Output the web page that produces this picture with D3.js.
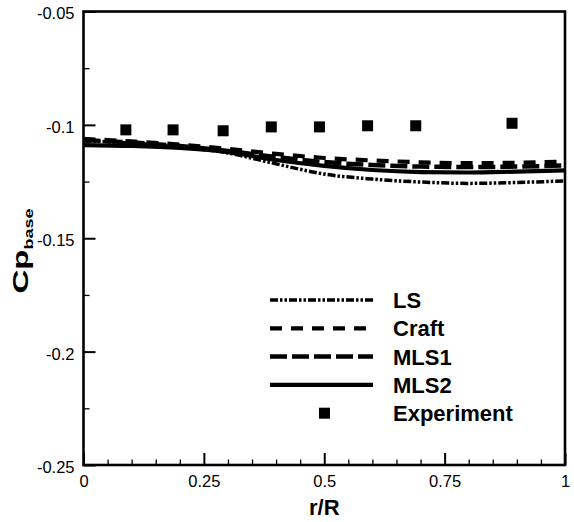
<!DOCTYPE html>
<html>
<head>
<meta charset="utf-8">
<script src="https://cdn.jsdelivr.net/npm/d3@7"></script>
<style>
  html, body { margin: 0; padding: 0; background: #fff; }
  svg { display: block; }
  text { font-family: "Liberation Sans", Arial, Helvetica, sans-serif; fill: #000; }
</style>
</head>
<body>
<svg id="chart" width="574" height="522"></svg>
<script>
// ---- data ----
const xGrid = [0, 0.1, 0.2, 0.3, 0.4, 0.5, 0.6, 0.7, 0.8, 0.9, 1.0];
const lsValues    = [-0.1071, -0.1080, -0.1098, -0.1124, -0.1172, -0.1217, -0.1239, -0.1252, -0.1258, -0.1254, -0.1247];
const craftValues = [-0.1062, -0.1073, -0.1087, -0.1106, -0.1128, -0.1146, -0.1157, -0.1165, -0.1169, -0.1167, -0.1162];
const mls1Values  = [-0.1067, -0.1078, -0.1093, -0.1115, -0.1142, -0.1164, -0.1177, -0.1184, -0.1186, -0.1184, -0.1179];
const mls2Values  = [-0.1089, -0.1093, -0.1102, -0.1120, -0.1155, -0.1181, -0.1199, -0.1208, -0.1210, -0.1206, -0.1201];
const expX = [0.088, 0.186, 0.29, 0.39, 0.49, 0.59, 0.69, 0.89];
const expY = [-0.1022, -0.1022, -0.1026, -0.1009, -0.1009, -0.1004, -0.1004, -0.0993];
const xTickValues = [0, 0.25, 0.5, 0.75, 1];
const xTickLabels = ["0", "0.25", "0.5", "0.75", "1"];
const yTickValues = [-0.05, -0.1, -0.15, -0.2, -0.25];
const yTickLabels = ["-0.05", "-0.1", "-0.15", "-0.2", "-0.25"];
const seriesNames = ["LS", "Craft", "MLS1", "MLS2", "Experiment"];

// ---- layout ----
const mLeft = 83.5, mRight = 565, mTop = 11.5, mBottom = 465;
const svg = d3.select("#chart");
const x = d3.scaleLinear().domain([0, 1]).range([mLeft, mRight]);
const y = d3.scaleLinear().domain([-0.25, -0.05]).range([mBottom, mTop]);

// styles per series
const styles = {
  LS:    { width: 3.5, dash: "8,2,2.5,2,2.5,2" },
  Craft: { width: 4.2, dash: "12,9" },
  MLS1:  { width: 4.5, dash: "17,5" },
  MLS2:  { width: 4.2, dash: null }
};
const lineSeries = [
  { name: "LS", values: lsValues },
  { name: "Craft", values: craftValues },
  { name: "MLS1", values: mls1Values },
  { name: "MLS2", values: mls2Values }
];

svg.append("defs").append("clipPath").attr("id", "clip")
  .append("rect").attr("x", mLeft).attr("y", mTop).attr("width", mRight - mLeft).attr("height", mBottom - mTop);

const line = d3.line().x(d => x(d[0])).y(d => y(d[1])).curve(d3.curveMonotoneX);

const plot = svg.append("g").attr("clip-path", "url(#clip)");
lineSeries.forEach(s => {
  const st = styles[s.name];
  plot.append("path")
    .datum(xGrid.map((xv, i) => [xv, s.values[i]]))
    .attr("d", line)
    .attr("fill", "none")
    .attr("stroke", "#000")
    .attr("stroke-width", st.width)
    .attr("stroke-dasharray", st.dash)
    .attr("stroke-linecap", "butt");
});

// experiment squares
const sq = 11;
svg.append("g").selectAll("rect").data(expX.map((xv, i) => [xv, expY[i]])).join("rect")
  .attr("x", d => x(d[0]) - sq / 2)
  .attr("y", d => y(d[1]) - sq / 2)
  .attr("width", sq).attr("height", sq)
  .attr("fill", "#000");

// ---- axes ----
const xAxis = d3.axisBottom(x).tickValues(xTickValues)
  .tickFormat((d, i) => xTickLabels[i]).tickSizeInner(-12).tickSizeOuter(0).tickPadding(10);
const gx = svg.append("g").attr("transform", `translate(0,${mBottom})`).call(xAxis);
gx.select(".domain").remove();
gx.selectAll(".tick line").attr("stroke", "#000").attr("stroke-width", 2);
gx.selectAll("text").attr("font-size", 16.5).attr("dy", "0.71em");
const xMinorVals = d3.range(1, 20).filter(k => k % 5 !== 0).map(k => k / 20);
const xMinor = d3.axisBottom(x).tickValues(xMinorVals)
  .tickFormat("").tickSizeInner(-5.5).tickSizeOuter(0);
const gxm = svg.append("g").attr("transform", `translate(0,${mBottom})`).call(xMinor);
gxm.select(".domain").remove();
gxm.selectAll(".tick line").attr("stroke", "#000").attr("stroke-width", 1.3);

const yAxis = d3.axisLeft(y).tickValues(yTickValues)
  .tickFormat((d, i) => yTickLabels[i]).tickSizeInner(-12).tickSizeOuter(0).tickPadding(9);
const gy = svg.append("g").attr("transform", `translate(${mLeft},0)`).call(yAxis);
gy.select(".domain").remove();
gy.selectAll(".tick line").attr("stroke", "#000").attr("stroke-width", 2);
gy.selectAll("text").attr("font-size", 16.5).attr("dy", "0.45em");
const yMinor = d3.axisLeft(y).tickValues([-0.075, -0.125, -0.175, -0.225])
  .tickFormat("").tickSizeInner(-6).tickSizeOuter(0);
const gym = svg.append("g").attr("transform", `translate(${mLeft},0)`).call(yMinor);
gym.select(".domain").remove();
gym.selectAll(".tick line").attr("stroke", "#000").attr("stroke-width", 1.3);

// frame
svg.append("rect").attr("x", mLeft).attr("y", mTop).attr("width", mRight - mLeft).attr("height", mBottom - mTop)
  .attr("fill", "none").attr("stroke", "#000").attr("stroke-width", 2.6);

// axis titles
svg.append("text").attr("x", (mLeft + mRight) / 2).attr("y", 515)
  .attr("text-anchor", "middle").attr("font-size", 22).attr("font-weight", "bold").text("r/R");
const yt = svg.append("text").attr("transform", "translate(28,251) rotate(-90) scale(1.5,1)")
  .attr("text-anchor", "middle").attr("font-size", 22).attr("font-weight", "bold");
yt.append("tspan").text("Cp");
yt.append("tspan").attr("font-size", 12).attr("dy", 5).text("base");

// ---- legend ----
const legX1 = 270, legX2 = 373, legTextX = 393, legY0 = 300, legDy = 28.3;
const leg = svg.append("g");
seriesNames.forEach((name, i) => {
  const yy = legY0 + i * legDy;
  if (styles[name]) {
    const st = styles[name];
    leg.append("line").attr("x1", legX1).attr("x2", legX2).attr("y1", yy).attr("y2", yy)
      .attr("stroke", "#000").attr("stroke-width", st.width).attr("stroke-dasharray", st.dash);
  } else {
    leg.append("rect").attr("x", (legX1 + legX2) / 2 - sq / 2 + 3).attr("y", yy - sq / 2)
      .attr("width", sq).attr("height", sq).attr("fill", "#000");
  }
  leg.append("text").attr("x", legTextX).attr("y", yy).attr("dy", "0.36em")
    .attr("font-size", 22).attr("font-weight", "bold").text(name);
});
</script>
</body>
</html>
